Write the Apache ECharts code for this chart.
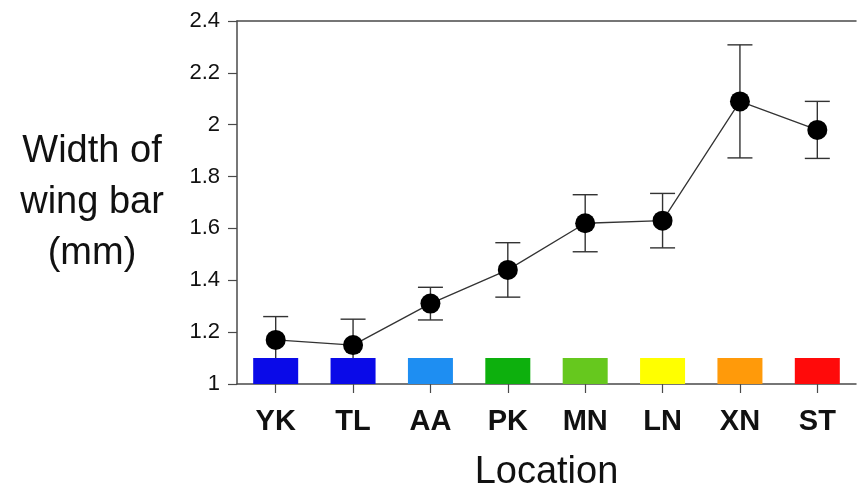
<!DOCTYPE html>
<html>
<head>
<meta charset="utf-8">
<script src="https://cdn.jsdelivr.net/npm/echarts@6/dist/echarts.min.js"></script>
<style>
  html, body { margin: 0; padding: 0; background: #ffffff; }
  #chart { width: 859px; height: 491px; }
</style>
</head>
<body>
<div id="chart"></div>
<script>
// Sampling locations along the x axis
const locations = ['YK', 'TL', 'AA', 'PK', 'MN', 'LN', 'XN', 'ST'];
// Mean width of wing bar (mm) per location
const meanWidth = [1.17, 1.15, 1.31, 1.44, 1.62, 1.63, 2.09, 1.98];
// Error bar half-range (mm)
const errorRange = [0.09, 0.10, 0.063, 0.105, 0.11, 0.105, 0.218, 0.11];
// Location colour key swatches
const swatchColors = ['#0a0ae8', '#0a0ae8', '#1e8ef2', '#0db00d', '#66c81e', '#ffff00', '#ff9a0a', '#ff0a0a'];
const swatchTop = 1.1;
// Y axis range and step
const yMin = 1, yMax = 2.4, yStep = 0.2;

const font = '"Liberation Sans", Arial, Helvetica, sans-serif';
const axisColor = '#4a4a4a';

const chart = echarts.init(document.getElementById('chart'), null, { renderer: 'canvas' });

const errorData = meanWidth.map((m, i) => [i, m - errorRange[i], m + errorRange[i]]);
const swatchData = locations.map((loc, i) => ({
  value: swatchTop,
  itemStyle: { color: swatchColors[i] }
}));

chart.setOption({
  backgroundColor: '#ffffff',
  animation: false,
  grid: { left: 237, top: 21, right: 3, bottom: 107, containLabel: false, outerBoundsMode: 'none' },
  xAxis: [
    {
      type: 'category',
      data: locations,
      position: 'bottom',
      boundaryGap: true,
      axisLine: { show: true, lineStyle: { color: axisColor, width: 1.5 } },
      axisTick: { show: true, alignWithLabel: true, length: 9, inside: false,
                  lineStyle: { color: axisColor, width: 1.2 } },
      axisLabel: { margin: 23, fontFamily: font, fontSize: 29, fontWeight: 'bold', color: '#111' },
      splitLine: { show: false },
      name: 'Location',
      nameLocation: 'middle',
      nameGap: 70,
      nameTextStyle: { fontFamily: font, fontSize: 38, color: '#111' }
    },
    {
      type: 'category',
      data: locations,
      position: 'top',
      axisLine: { show: true, lineStyle: { color: axisColor, width: 1.5 } },
      axisTick: { show: false },
      axisLabel: { show: false },
      splitLine: { show: false }
    }
  ],
  yAxis: {
    type: 'value',
    min: yMin,
    max: yMax,
    interval: yStep,
    axisLine: { show: true, lineStyle: { color: axisColor, width: 1.5 } },
    axisTick: { show: true, length: 9, inside: false, lineStyle: { color: axisColor, width: 1.2 } },
    axisLabel: { margin: 17, fontFamily: font, fontSize: 22, color: '#111' },
    splitLine: { show: false },
    name: 'Width of\nwing bar\n(mm)',
    nameLocation: 'middle',
    nameRotate: 0,
    nameGap: 145,
    nameTextStyle: { fontFamily: font, fontSize: 38, color: '#111', align: 'center',
                     verticalAlign: 'middle', lineHeight: 51 }
  },
  series: [
    {
      // error bars (vertical whisker with caps)
      type: 'custom',
      z: 1,
      data: errorData,
      renderItem: function (params, api) {
        const x = api.value(0);
        const lo = api.coord([x, api.value(1)]);
        const hi = api.coord([x, api.value(2)]);
        const half = 12.5;
        const style = { stroke: '#333', lineWidth: 1.4 };
        return {
          type: 'group',
          children: [
            { type: 'line', shape: { x1: hi[0], y1: hi[1], x2: lo[0], y2: lo[1] }, style },
            { type: 'line', shape: { x1: hi[0] - half, y1: hi[1], x2: hi[0] + half, y2: hi[1] }, style },
            { type: 'line', shape: { x1: lo[0] - half, y1: lo[1], x2: lo[0] + half, y2: lo[1] }, style }
          ]
        };
      }
    },
    {
      // colour key swatches sitting on the x axis
      type: 'bar',
      z: 2,
      barWidth: 45,
      data: swatchData,
      clip: true
    },
    {
      type: 'line',
      z: 3,
      data: meanWidth,
      symbol: 'circle',
      symbolSize: 20,
      itemStyle: { color: '#000' },
      lineStyle: { color: '#333', width: 1.3 }
    }
  ]
});
</script>
</body>
</html>
